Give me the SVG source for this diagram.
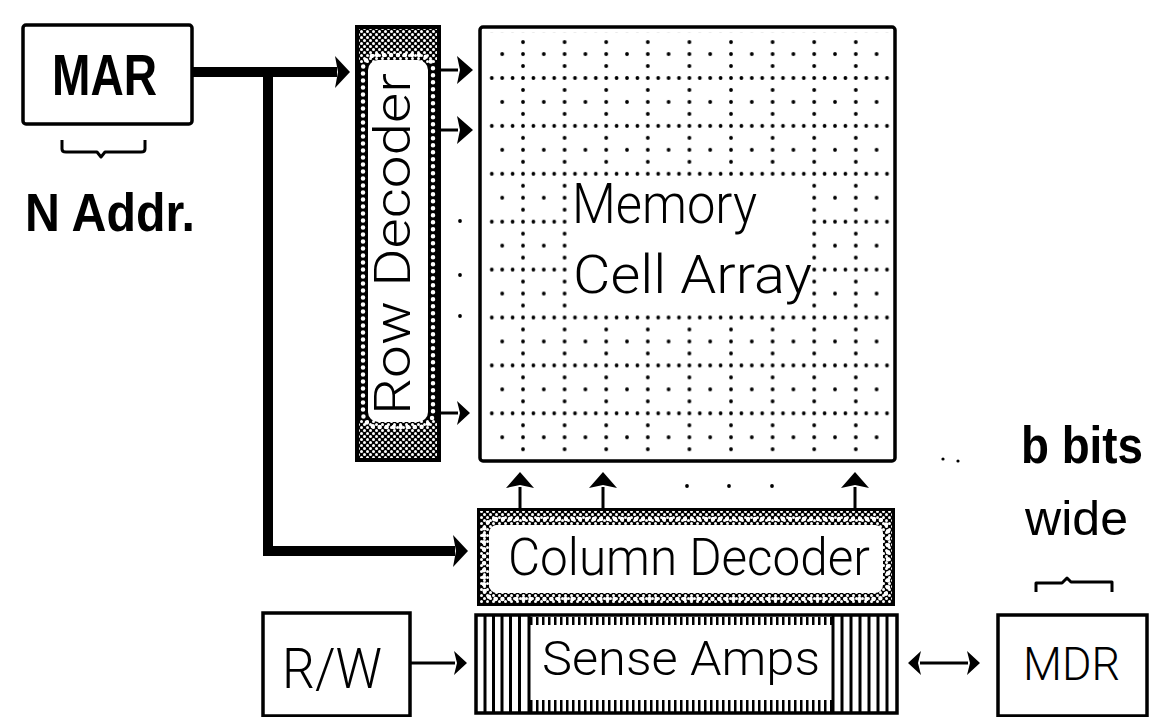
<svg xmlns="http://www.w3.org/2000/svg" width="1152" height="717" viewBox="0 0 1152 717">
<style>
.t{font-family:"Liberation Sans",Arial,sans-serif;fill:#000}
.l{font-family:Roboto,"Liberation Sans",Arial,sans-serif;font-weight:300}
.b{font-weight:bold}
.box{fill:#fff;stroke:#000;stroke-width:3.5}
.chain{fill:none;stroke:#fff;stroke-width:4.5;stroke-dasharray:0 7;stroke-linecap:round}
.bus{fill:none;stroke:#000;stroke-width:10;stroke-linejoin:miter}
.wire{fill:none;stroke:#000;stroke-width:3}
.brace{fill:none;stroke:#000;stroke-width:3;stroke-linejoin:round}
.dot{fill:#000}
</style>
<defs>
<pattern id="grid" patternUnits="userSpaceOnUse" x="521" y="76" width="41.6" height="47.9">
<g fill="#000">
<circle cx="2" cy="2" r="1.9"/><circle cx="12.4" cy="2" r="1.9"/><circle cx="22.8" cy="2" r="1.9"/><circle cx="33.2" cy="2" r="1.9"/>
<circle cx="2" cy="13.97" r="1.9"/><circle cx="2" cy="25.95" r="1.9"/><circle cx="2" cy="37.9" r="1.9"/>
<circle cx="22.8" cy="25.95" r="1.9"/>
</g>
</pattern>
<pattern id="chk" patternUnits="userSpaceOnUse" width="6" height="6">
<rect width="6" height="6" fill="#000"/>
<circle cx="1.5" cy="1.5" r="1.5" fill="#fff"/><circle cx="4.5" cy="4.5" r="1.5" fill="#fff"/>
</pattern>
<marker id="hb" markerUnits="userSpaceOnUse" viewBox="-4 -17 20 34" markerWidth="20" markerHeight="34" refX="0" refY="0" orient="auto">
<path d="M-2,-16 L13,0 L-2,16 L1,0 Z" fill="#000"/>
</marker>
<marker id="hm" markerUnits="userSpaceOnUse" viewBox="-3 -15 20 30" markerWidth="20" markerHeight="30" refX="0" refY="0" orient="auto">
<path d="M-1,-14 L15,0 L-1,14 L2,0 Z" fill="#000"/>
</marker>
<marker id="hs" markerUnits="userSpaceOnUse" viewBox="-3 -13 17 26" markerWidth="17" markerHeight="26" refX="0" refY="0" orient="auto-start-reverse">
<path d="M-1,-12 L12,0 L-1,12 L2,0 Z" fill="#000"/>
</marker>
</defs>
<rect width="1152" height="717" fill="#fff"/>

<g id="connectors">
<path class="bus" d="M192,72 H337" marker-end="url(#hb)"/>
<path class="bus" d="M268,72 V551 H455" marker-end="url(#hb)"/>
<path class="wire" d="M441,70 H458" marker-end="url(#hm)"/>
<path class="wire" d="M441,130 H458" marker-end="url(#hm)"/>
<path class="wire" d="M441,413 H458" marker-end="url(#hs)"/>
<path class="wire" d="M520,508 V487" marker-end="url(#hm)"/>
<path class="wire" d="M603,508 V487" marker-end="url(#hm)"/>
<path class="wire" d="M855,508 V487" marker-end="url(#hm)"/>
<path class="wire" d="M410,663 H455" marker-end="url(#hs)"/>
<path class="wire" d="M920,663 H968" marker-start="url(#hs)" marker-end="url(#hs)"/>
<circle class="dot" cx="460" cy="221" r="1.9"/>
<circle class="dot" cx="460" cy="275" r="1.9"/>
<circle class="dot" cx="460" cy="316" r="1.9"/>
<circle class="dot" cx="687" cy="486" r="1.9"/>
<circle class="dot" cx="729" cy="486" r="1.9"/>
<circle class="dot" cx="772" cy="486" r="1.9"/>
<circle class="dot" cx="943" cy="459" r="1.6"/>
<circle class="dot" cx="958" cy="461" r="1.6"/>
</g>

<g id="mar">
<rect class="box" x="23" y="25" width="169" height="99" rx="3" stroke-width="4"/>
<text class="t b" x="52" y="95" font-size="58" textLength="105" lengthAdjust="spacingAndGlyphs">MAR</text>
<path class="brace" d="M62,140 V149 Q62,152 66,152 H97 L101,157 L105,152 H141 Q145,152 145,149 V140"/>
<text class="t b" x="25" y="231" font-size="54" textLength="170" lengthAdjust="spacingAndGlyphs">N Addr.</text>
</g>

<g id="row-decoder">
<rect x="355" y="25" width="86" height="437" fill="#000"/>
<rect x="359" y="29" width="78" height="34" fill="url(#chk)"/>
<rect x="359" y="420" width="78" height="38" fill="url(#chk)"/>
<rect x="368" y="60" width="60" height="362" rx="10" fill="#fff"/>
<rect class="chain" x="363" y="55" width="70" height="372" rx="14"/>
<text class="t l" transform="translate(410,415) rotate(-90)" font-size="50" textLength="342" lengthAdjust="spacingAndGlyphs">Row Decoder</text>
</g>

<g id="memory-array">
<rect class="box" x="480" y="27" width="415" height="434" rx="3"/>
<rect x="484" y="32" width="408" height="426" fill="url(#grid)"/>
<rect x="567" y="176" width="245" height="138" fill="#fff"/>
<text class="t l" x="572" y="223" font-size="55" textLength="185" lengthAdjust="spacingAndGlyphs">Memory</text>
<text class="t l" x="573" y="293" font-size="53" textLength="239" lengthAdjust="spacingAndGlyphs">Cell Array</text>
</g>

<g id="column-decoder">
<rect x="477" y="508" width="418" height="98" fill="#000"/>
<rect x="480" y="511" width="412" height="92" fill="url(#chk)"/>
<rect x="489" y="525" width="394" height="68" rx="8" fill="#fff"/>
<rect class="chain" x="484" y="519" width="404" height="80" rx="12"/>
<text class="t l" x="508" y="575" font-size="52" textLength="362" lengthAdjust="spacingAndGlyphs">Column Decoder</text>
</g>

<g id="sense-amps">
<rect class="box" x="476" y="615" width="421" height="98"/>
<path d="M485,615 V713 M493.5,615 V713 M502,615 V713 M510.5,615 V713 M519.5,615 V713 M529,615 V713 M833,615 V713 M842,615 V713 M851,615 V713 M860,615 V713 M869,615 V713 M878,615 V713 M887,615 V713" stroke="#000" stroke-width="3"/>
<path d="M530,621 H832" stroke="#000" stroke-width="8" stroke-dasharray="2.5 3.5"/>
<path d="M530,706 H832" stroke="#000" stroke-width="12" stroke-dasharray="2.5 3.5"/>
<text class="t l" x="542" y="675" font-size="49" textLength="278" lengthAdjust="spacingAndGlyphs">Sense Amps</text>
</g>

<g id="rw">
<rect class="box" x="263" y="613" width="147" height="103"/>
<text class="t l" x="282" y="688" font-size="55" textLength="100" lengthAdjust="spacingAndGlyphs">R/W</text>
</g>

<g id="mdr">
<text class="t b" transform="translate(1021,463) scale(0.88,1)" font-size="52">b bits</text>
<text class="t" x="1025" y="535" font-size="48" textLength="103" lengthAdjust="spacingAndGlyphs">wide</text>
<path class="brace" d="M1036,592 V583 H1062 L1067,578 L1071,582 H1112 V592"/>
<rect class="box" x="998" y="615" width="149" height="101"/>
<text class="t l" x="1023" y="680" font-size="46" textLength="97" lengthAdjust="spacingAndGlyphs">MDR</text>
</g>
</svg>
